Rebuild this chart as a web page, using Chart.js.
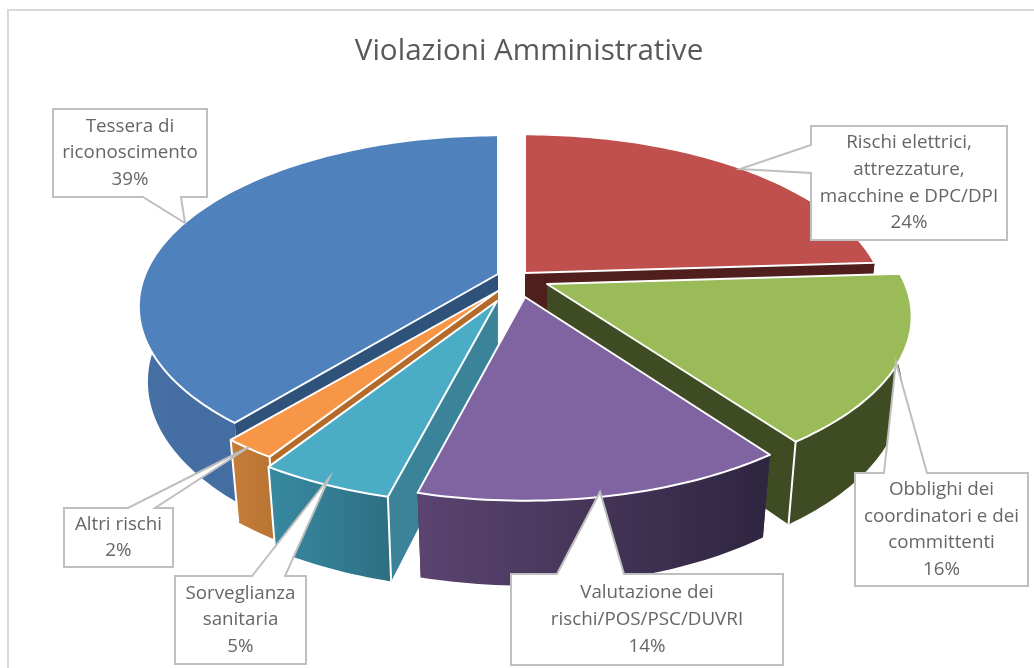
<!DOCTYPE html>
<html>
<head>
<meta charset="utf-8">
<script src="https://cdn.jsdelivr.net/npm/chart.js@4"></script>
<style>
html,body{margin:0;padding:0;background:#fff}
#wrap{position:relative;width:1034px;height:668px}
canvas{display:block}
</style>
</head>
<body>
<div id="wrap"><canvas id="c" width="1034" height="668"></canvas></div>
<script>
// ---- data ----
const chartTitle = 'Violazioni Amministrative';
const categories = [
  'Rischi elettrici, attrezzature, macchine e DPC/DPI',
  'Obblighi dei coordinatori e dei committenti',
  'Valutazione dei rischi/POS/PSC/DUVRI',
  'Sorveglianza sanitaria',
  'Altri rischi',
  'Tessera di riconoscimento'
];
const shares = [24, 16, 14, 5, 2, 39];
const labelLines = [
  ['Rischi elettrici,', 'attrezzature,', 'macchine e DPC/DPI'],
  ['Obblighi dei', 'coordinatori e dei', 'committenti'],
  ['Valutazione dei', 'rischi/POS/PSC/DUVRI'],
  ['Sorveglianza', 'sanitaria'],
  ['Altri rischi'],
  ['Tessera di', 'riconoscimento']
];

// ---- styles ----
const topColors  = ['#c0504d', '#9bbb59', '#8064a2', '#4bacc6', '#f79646', '#4f81bd'];
const faceColors = ['#4f1e1d', '#3f4b22', '#3a2c4c', '#3a8399', '#b46a28', '#2f527a'];
const wallLeft   = ['#4f1e1d', '#3f4b22', '#5b4470', '#378aa1', '#c67d38', '#466fa4'];
const wallRight  = ['#4f1e1d', '#3f4b22', '#2e2540', '#2e6e82', '#b87333', '#3e6798'];
const cornerEdge = [false, true, false, true, true, false];
const drawOrder  = [0, 1, 5, 4, 3, 2];
const pivots = [[525,273],[547,284],[525,297],[497,301],[498,291],[498,274]];
const widthScale = [0.99, 1, 0.985, 1, 1, 0.985];
const view = {fx:358, fy:165, depth:76, persp:0.19, shrink:0.025};

const calloutBoxes = [[811,126,1007,240],[855,473,1028,586],[511,574,783,665],[175,576,306,664],[64,508,173,567],[53,109,207,197]];
const calloutBase  = [[811,145,811,173],[884,473,927,473],[557,574,624,574],[252,576,285,576],[128,508,155,508],[143,197,181,197]];
const calloutTips  = [[740,169],[896,362],[600,492],[329,478],[249,447],[185,223]];
const FONT = '"Open Sans", sans-serif';

function project(p, X, Y, Z, k) {
  const w = 1 - view.persp * Y + view.shrink * Z;
  return [p[0] + k * view.fx * X / w, p[1] + (view.fy * Y + view.depth * Z) / w];
}
function rim(p, a0, a1, Z, k) {
  const n = Math.max(4, Math.ceil((a1 - a0) / 0.02)), pts = [];
  for (let i = 0; i <= n; i++) {
    const t = a0 + (a1 - a0) * i / n;
    pts.push(project(p, Math.sin(t), -Math.cos(t), Z, k));
  }
  return pts;
}
function poly(ctx, pts, close) {
  ctx.beginPath();
  pts.forEach((q, i) => i ? ctx.lineTo(q[0], q[1]) : ctx.moveTo(q[0], q[1]));
  if (close) ctx.closePath();
}

const pie3d = {
  id: 'pie3d',
  beforeDatasetsDraw(chart) {
    const ctx = chart.ctx, arcs = chart.getDatasetMeta(0).data;
    ctx.save();
    // outer chart frame
    ctx.strokeStyle = '#d9d9d9'; ctx.lineWidth = 2;
    poly(ctx, [[8,668],[8,10],[1034,10]], false); ctx.stroke();
    ctx.lineJoin = 'round';
    drawOrder.forEach(i => {
      const arc = arcs[i], p = pivots[i], k = widthScale[i];
      const a0 = arc.startAngle + Math.PI / 2, a1 = arc.endAngle + Math.PI / 2;
      const topRim = rim(p, a0, a1, 0, k), botRim = rim(p, a0, a1, 1, k);
      const A = project(p, 0, 0, 0, k), B = project(p, 0, 0, 1, k);
      const S = topRim[0], E = topRim[topRim.length - 1];
      const S2 = botRim[0], E2 = botRim[botRim.length - 1];
      // radial faces
      ctx.fillStyle = faceColors[i];
      poly(ctx, [A, S, S2, B], true); ctx.fill();
      poly(ctx, [A, E, E2, B], true); ctx.fill();
      // outer wall
      const xs = topRim.concat(botRim).map(q => q[0]);
      const g = ctx.createLinearGradient(Math.min(...xs), 0, Math.max(...xs), 0);
      g.addColorStop(0, wallLeft[i]); g.addColorStop(1, wallRight[i]);
      ctx.fillStyle = g;
      poly(ctx, topRim.concat(botRim.slice().reverse()), true); ctx.fill();
      // white corners
      ctx.strokeStyle = '#ffffff'; ctx.lineWidth = 2;
      if (cornerEdge[i]) {
        poly(ctx, [S, S2]); ctx.stroke();
        poly(ctx, [E, E2]); ctx.stroke();
      }
      // top cap
      const cap = [A].concat(topRim);
      ctx.fillStyle = topColors[i];
      poly(ctx, cap, true); ctx.fill(); ctx.stroke();
    });
    // callouts
    shares.forEach((v, i) => {
      const [x0, y0, x1, y1] = calloutBoxes[i];
      const [bx0, by0, bx1, by1] = calloutBase[i];
      const tip = calloutTips[i];
      let pts;
      if (bx0 === x0) pts = [[x0,y0],[bx0,by0],tip,[bx1,by1],[x0,y1],[x1,y1],[x1,y0]];
      else if (by0 === y0) pts = [[x0,y0],[bx0,by0],tip,[bx1,by1],[x1,y0],[x1,y1],[x0,y1]];
      else pts = [[x0,y0],[x1,y0],[x1,y1],[bx1,by1],tip,[bx0,by0],[x0,y1]];
      ctx.fillStyle = '#ffffff'; ctx.strokeStyle = '#bfbfbf'; ctx.lineWidth = 2; ctx.lineJoin = 'miter';
      poly(ctx, pts, true); ctx.fill(); ctx.stroke();
      const lines = labelLines[i].concat([v + '%']);
      const lh = 26.7, cx = (x0 + x1) / 2, cy = (y0 + y1) / 2;
      ctx.fillStyle = '#666666';
      ctx.font = '18.8px ' + FONT;
      ctx.textAlign = 'center'; ctx.textBaseline = 'middle';
      lines.forEach((t, k) => ctx.fillText(t, cx, cy + (k - (lines.length - 1) / 2) * lh));
    });
    ctx.restore();
    return false; // the arcs are painted above in 3D
  }
};

new Chart(document.getElementById('c'), {
  type: 'pie',
  data: {
    labels: categories,
    datasets: [{ data: shares, backgroundColor: topColors, borderColor: '#ffffff' }]
  },
  options: {
    responsive: false,
    animation: false,
    events: [],
    layout: { padding: { left: 24 } },
    plugins: {
      legend: { display: false },
      tooltip: { enabled: false },
      title: {
        display: true,
        text: chartTitle,
        color: '#595959',
        font: { family: FONT, size: 29.6, weight: 'normal', lineHeight: 1.2 },
        padding: { top: 34, bottom: 0 }
      }
    }
  },
  plugins: [pie3d]
});
</script>
</body>
</html>
